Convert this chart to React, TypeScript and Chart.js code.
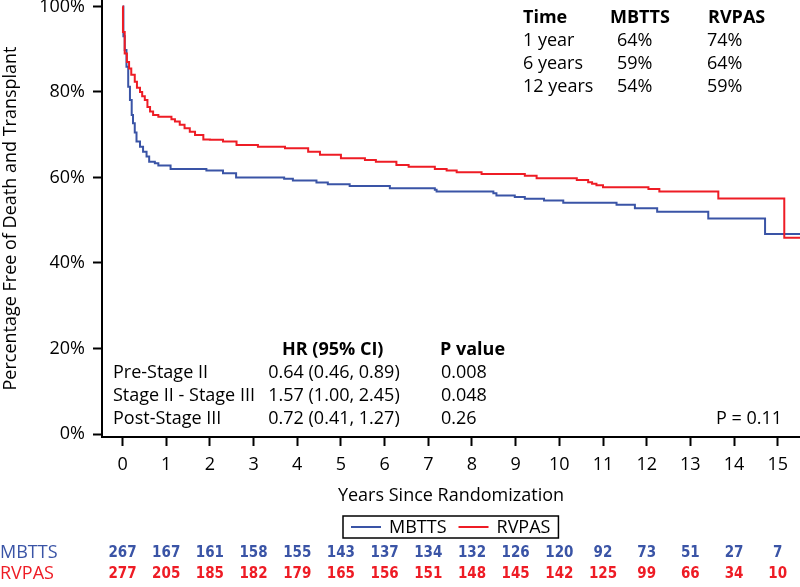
import React, { useEffect, useRef } from "react";
import { Chart, registerables } from "chart.js";
Chart.register(...registerables);

const xTickValues = [0, 1, 2, 3, 4, 5, 6, 7, 8, 9, 10, 11, 12, 13, 14, 15];
const yTickValues = [0, 20, 40, 60, 80, 100];

const seriesNames = ["MBTTS", "RVPAS"];

const mbttsTime = [0, 0.02, 0.05, 0.09, 0.13, 0.17, 0.21, 0.24, 0.28, 0.32, 0.4, 0.47, 0.55, 0.61, 0.74, 0.82, 1.1, 1.92, 2.3, 2.6, 3.7, 3.9, 4.44, 4.7, 5.2, 6.12, 7.15, 7.19, 8.49, 8.56, 8.98, 9.21, 9.65, 10.09, 11.31, 11.73, 12.24, 13.41, 14.71, 15.51];
const mbttsSurv = [100, 93, 89.8, 85.9, 81.2, 78.1, 74.6, 72.7, 70.5, 68.4, 67.2, 66, 64.9, 63.7, 63.3, 62.8, 62, 61.6, 61, 60, 59.7, 59.3, 58.8, 58.4, 58, 57.5, 57.1, 56.7, 56.3, 55.8, 55.4, 55, 54.6, 54.1, 53.6, 52.8, 52, 50.4, 46.8, 46.8];

const rvpasTime = [0, 0.01, 0.05, 0.1, 0.15, 0.2, 0.28, 0.33, 0.4, 0.45, 0.51, 0.57, 0.63, 0.7, 0.82, 1.12, 1.2, 1.31, 1.42, 1.54, 1.66, 1.85, 2, 2.3, 2.61, 3.1, 3.72, 4.25, 4.52, 5, 5.55, 5.8, 6.27, 6.55, 7.15, 7.42, 7.65, 8.22, 9.21, 9.48, 10.4, 10.66, 10.75, 10.85, 11, 12.04, 12.29, 13.64, 15.15, 15.51];
const rvpasSurv = [100, 94, 89, 87, 85.5, 84, 82.4, 81, 80, 79, 78.1, 76.5, 75.4, 74.6, 74.2, 73.6, 73.1, 72.3, 71.5, 70.7, 69.9, 68.9, 68.8, 68.4, 67.6, 67.2, 66.8, 66, 65.3, 64.5, 64.1, 63.7, 62.9, 62.5, 62, 61.6, 61.2, 60.8, 60.4, 59.8, 59.4, 58.9, 58.5, 58.2, 57.7, 57.3, 56.7, 55.1, 45.9, 45.9];

const atRiskMbtts = [267, 167, 161, 158, 155, 143, 137, 134, 132, 126, 120, 92, 73, 51, 27, 7];
const atRiskRvpas = [277, 205, 185, 182, 179, 165, 156, 151, 148, 145, 142, 125, 99, 66, 34, 10];

const summaryHeader = ["Time", "MBTTS", "RVPAS"];
const summaryTimes = ["1 year", "6 years", "12 years"];
const summaryMbtts = ["64%", "59%", "54%"];
const summaryRvpas = ["74%", "64%", "59%"];

const hrHeader = ["HR (95% CI)", "P value"];
const hrLabels = ["Pre-Stage II", "Stage II - Stage III", "Post-Stage III"];
const hrValues = ["0.64 (0.46, 0.89)", "1.57 (1.00, 2.45)", "0.72 (0.41, 1.27)"];
const hrPValues = ["0.008", "0.048", "0.26"];
const overallP = "P = 0.11";

const xTitle = "Years Since Randomization";
const yTitle = "Percentage Free of Death and Transplant";

const BLUE = "#3a54a6";
const RED = "#ee1c25";
const FONT = '"Open Sans", "Noto Sans", sans-serif';
const NARROW = '"Liberation Sans Narrow", "DejaVu Sans Condensed", sans-serif';

const textPlugin = {
  id: "kmText",
  afterDraw(chart: any) {
    const ctx = chart.ctx as CanvasRenderingContext2D;
    const xs = chart.scales.x;
    const area = chart.chartArea;
    ctx.save();
    ctx.textBaseline = "middle";
    ctx.fillStyle = "#000";

    // survival summary table (top right)
    ctx.textAlign = "left";
    ctx.font = `bold 18px ${FONT}`;
    ctx.fillText(summaryHeader[0], 523, 18);
    ctx.fillText(summaryHeader[1], 610, 18);
    ctx.fillText(summaryHeader[2], 708, 18);
    ctx.font = `18px ${FONT}`;
    for (let i = 0; i < summaryTimes.length; i++) {
      const y = 41 + i * 23;
      ctx.fillText(summaryTimes[i], 523, y);
      ctx.fillText(summaryMbtts[i], 617, y);
      ctx.fillText(summaryRvpas[i], 707, y);
    }

    // hazard ratio table
    ctx.font = `bold 18px ${FONT}`;
    ctx.fillText(hrHeader[0], 282, 350);
    ctx.fillText(hrHeader[1], 440, 350);
    ctx.font = `18px ${FONT}`;
    for (let i = 0; i < hrLabels.length; i++) {
      const y = 373 + i * 23;
      ctx.textAlign = "left";
      ctx.fillText(hrLabels[i], 113, y);
      ctx.textAlign = "center";
      ctx.fillText(hrValues[i], 334, y);
      ctx.textAlign = "left";
      ctx.fillText(hrPValues[i], 441, y);
    }
    ctx.textAlign = "right";
    ctx.fillText(overallP, 782, 419);

    // legend
    const ds = chart.data.datasets;
    ctx.font = `18px ${FONT}`;
    const w0 = ctx.measureText(ds[1].label).width;
    const w1 = ctx.measureText(ds[0].label).width;
    const lineLen = 30;
    const boxW = 8 + lineLen + 8 + w0 + 12 + lineLen + 8 + w1 + 8;
    const cx = (area.left + area.right) / 2;
    const bx = Math.round(cx - boxW / 2);
    const by = 516;
    const bh = 22;
    ctx.strokeStyle = "#000";
    ctx.lineWidth = 1.5;
    ctx.strokeRect(bx, by, boxW, bh);
    const ly = by + bh / 2;
    let lx = bx + 8;
    const items = [ds[1], ds[0]];
    ctx.textAlign = "left";
    for (const it of items) {
      ctx.strokeStyle = it.borderColor;
      ctx.lineWidth = 2;
      ctx.beginPath();
      ctx.moveTo(lx, ly);
      ctx.lineTo(lx + lineLen, ly);
      ctx.stroke();
      lx += lineLen + 8;
      ctx.fillStyle = "#000";
      ctx.fillText(it.label, lx, ly + 1);
      lx += ctx.measureText(it.label).width + 12;
    }

    // numbers at risk
    ctx.font = `18px ${FONT}`;
    ctx.textAlign = "left";
    ctx.fillStyle = BLUE;
    ctx.fillText(seriesNames[0], 0, 553);
    ctx.fillStyle = RED;
    ctx.fillText(seriesNames[1], 0, 574);
    ctx.font = `bold 15px ${NARROW}`;
    ctx.textAlign = "center";
    for (let i = 0; i < xTickValues.length; i++) {
      const px = xs.getPixelForValue(xTickValues[i]);
      ctx.fillStyle = BLUE;
      ctx.fillText(String(atRiskMbtts[i]), px, 553);
      ctx.fillStyle = RED;
      ctx.fillText(String(atRiskRvpas[i]), px, 574);
    }
    ctx.restore();
  },
};

export default function App() {
  const ref = useRef<HTMLCanvasElement | null>(null);
  useEffect(() => {
    document.body.style.margin = "0";
    const canvas = ref.current;
    if (!canvas) return;
    const chart = new Chart(canvas, {
      type: "line",
      data: {
        datasets: [
          {
            label: seriesNames[1],
            data: rvpasTime.map((t, i) => ({ x: t, y: rvpasSurv[i] })),
            borderColor: RED,
            backgroundColor: RED,
            borderWidth: 2,
            pointRadius: 0,
            stepped: true,
            fill: false,
            order: 0,
          },
          {
            label: seriesNames[0],
            data: mbttsTime.map((t, i) => ({ x: t, y: mbttsSurv[i] })),
            borderColor: BLUE,
            backgroundColor: BLUE,
            borderWidth: 2,
            pointRadius: 0,
            stepped: true,
            fill: false,
            order: 1,
          },
        ],
      },
      options: {
        responsive: false,
        animation: false,
        devicePixelRatio: 1,
        layout: { padding: { left: 0, right: 0, top: 0, bottom: 80 } },
        plugins: {
          legend: { display: false },
          tooltip: { enabled: false },
        },
        scales: {
          x: {
            type: "linear",
            min: -0.47,
            max: 15.51,
            afterBuildTicks: (s: any) => {
              s.ticks = xTickValues.map((v) => ({ value: v }));
            },
            afterFit: (s: any) => {
              s.height = 70;
              s.paddingLeft = 0;
              s.paddingRight = 0;
            },
            ticks: {
              autoSkip: false,
              maxRotation: 0,
              padding: 8,
              color: "#000",
              font: { family: FONT, size: 18 },
              callback: (v: any) => String(v),
            },
            grid: {
              drawOnChartArea: false,
              drawTicks: true,
              tickLength: 9,
              tickColor: "#000",
              tickWidth: 2,
            },
            border: { display: true, color: "#000", width: 2 },
            title: {
              display: true,
              text: xTitle,
              color: "#000",
              font: { family: FONT, size: 18 },
              padding: { top: 0, bottom: 0 },
            },
          },
          y: {
            type: "linear",
            min: -0.7,
            max: 101.5,
            afterBuildTicks: (s: any) => {
              s.ticks = yTickValues.map((v) => ({ value: v }));
            },
            afterFit: (s: any) => {
              s.width = 102;
              s.paddingTop = 0;
              s.paddingBottom = 0;
            },
            ticks: {
              padding: 8,
              color: "#000",
              font: { family: FONT, size: 18 },
              callback: (v: any) => v + "%",
            },
            grid: {
              drawOnChartArea: false,
              drawTicks: true,
              tickLength: 9,
              tickColor: "#000",
              tickWidth: 2,
            },
            border: { display: true, color: "#000", width: 2 },
            title: {
              display: true,
              text: yTitle,
              color: "#000",
              font: { family: FONT, size: 18 },
              padding: { top: 0, bottom: 0 },
            },
          },
        },
      },
      plugins: [textPlugin],
    } as any);
    return () => chart.destroy();
  }, []);
  return (
    <div style={{ width: 800, height: 587 }}>
      <canvas ref={ref} width={800} height={587} style={{ display: "block" }} />
    </div>
  );
}
